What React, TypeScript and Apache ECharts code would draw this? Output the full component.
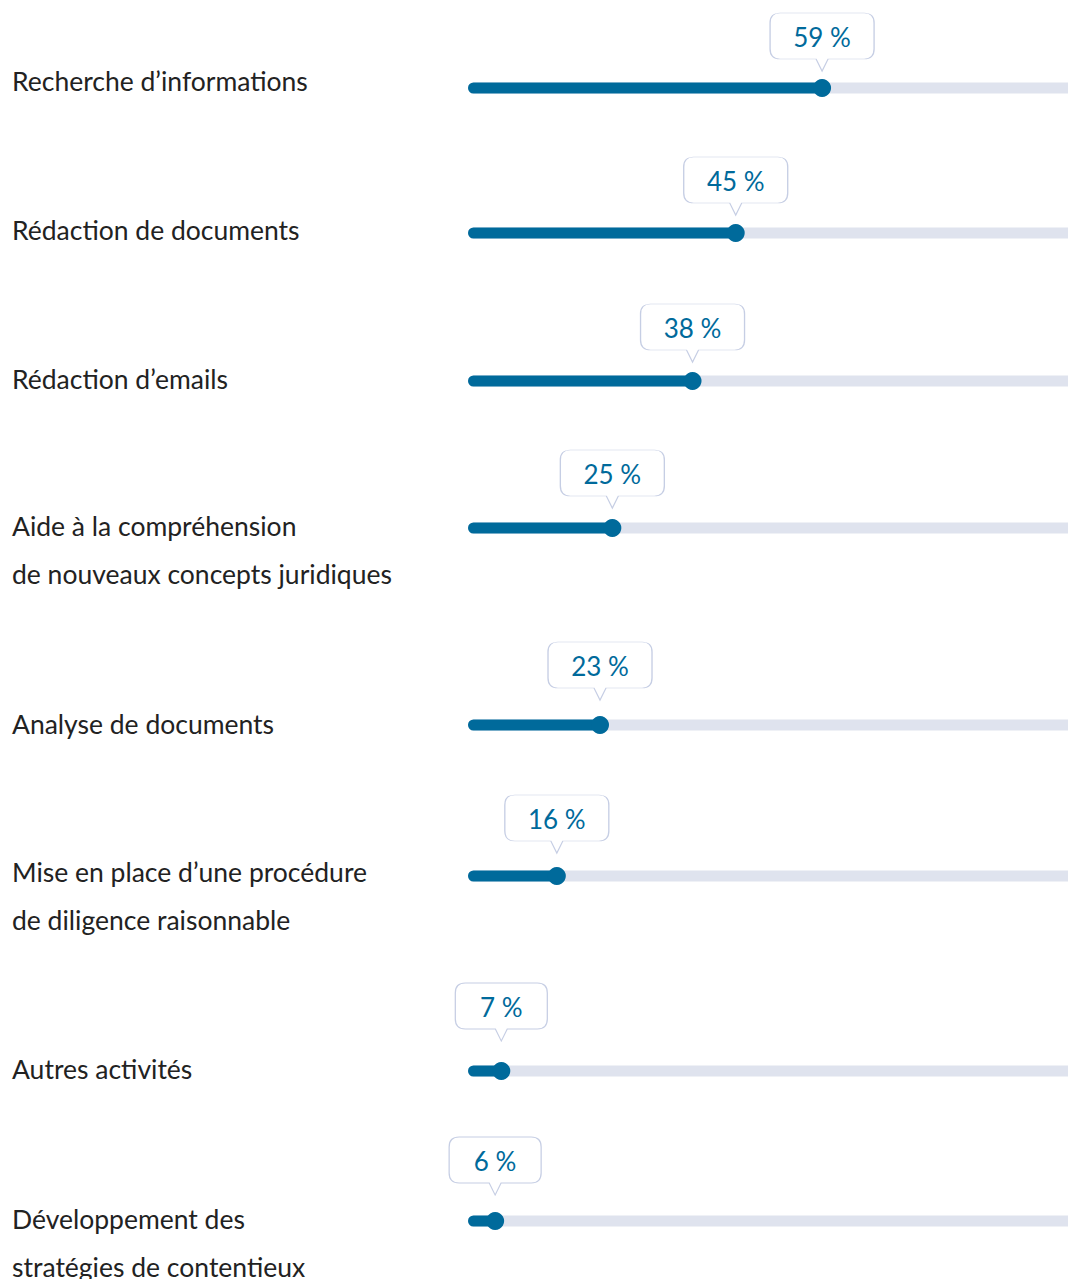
import React, { useEffect, useRef } from "react";
import * as echarts from "echarts";

// ---- data ----
const categories: string[] = [
  "Recherche d’informations",
  "Rédaction de documents",
  "Rédaction d’emails",
  "Aide à la compréhension\nde nouveaux concepts juridiques",
  "Analyse de documents",
  "Mise en place d’une procédure\nde diligence raisonnable",
  "Autres activités",
  "Développement des\nstratégies de contentieux",
];
const values: number[] = [59, 45, 38, 25, 23, 16, 7, 6];

// ---- layout (pixel centres of each slider row, label first line, bubble extra lift) ----
const rowCenters: number[] = [88, 233, 381, 528, 725, 876, 1071, 1221];
const labelCenters: number[] = [81, 229.5, 378.7, 526, 723.5, 872, 1069, 1218.5];
const bubbleLift: number[] = [0, 1, 2, 3, 8, 6, 13, 9];

const BLUE = "#006a9b";
const TRACK = "#dfe3ee";
const BORDER = "#c6cee4";
const FONT = "Lato, 'Open Sans', sans-serif";

function bubblePath(w: number): string {
  const h = 46;
  const r = 10;
  const c = w / 2;
  return (
    `path://M${r},0 L${w - r},0 Q${w},0 ${w},${r} L${w},${h - r} Q${w},${h} ${w - r},${h} ` +
    `L${c + 6},${h} L${c},${h + 12} L${c - 6},${h} L${r},${h} Q0,${h} 0,${h - r} L0,${r} Q0,0 ${r},0 Z`
  );
}

export default function App() {
  const ref = useRef<HTMLDivElement>(null);
  useEffect(() => {
    if (!ref.current) return;
    const chart = echarts.init(ref.current, undefined, { renderer: "svg" });
    const grids: any[] = [];
    const xAxes: any[] = [];
    const yAxes: any[] = [];
    const series: any[] = [];
    const n = categories.length;
    categories.forEach((cat, i) => {
      grids.push({
        left: 468,
        width: 607,
        top: rowCenters[i] - 10,
        height: 20,
        containLabel: false,
        outerBoundsMode: "none",
      });
      xAxes.push({ gridIndex: i, type: "value", min: 1.6, max: 100, show: false });
      yAxes.push({ gridIndex: i, type: "category", data: [cat], show: false });
      series.push({
        type: "bar",
        xAxisIndex: i,
        yAxisIndex: i,
        data: [values[i]],
        barWidth: 11,
        showBackground: true,
        backgroundStyle: { color: TRACK, opacity: 1, borderRadius: [5.5, 0, 0, 5.5] },
        itemStyle: { color: BLUE, opacity: 1, borderRadius: [5.5, 0, 0, 5.5] },
        silent: true,
      });
      series.push({
        type: "scatter",
        xAxisIndex: i,
        yAxisIndex: i,
        data: [[values[i], cat]],
        symbol: "circle",
        symbolSize: 18,
        itemStyle: { color: BLUE, opacity: 1 },
        z: 3,
        silent: true,
      });
      const w = String(values[i]).length > 1 ? 104 : 92;
      series.push({
        type: "scatter",
        xAxisIndex: i,
        yAxisIndex: i,
        data: [[values[i], cat]],
        symbol: bubblePath(w),
        symbolSize: [w, 58],
        symbolOffset: [0, -(46 + bubbleLift[i])],
        itemStyle: { color: "#ffffff", borderColor: BORDER, borderWidth: 1, opacity: 1 },
        label: {
          show: true,
          position: "inside",
          offset: [0, -5],
          formatter: (p: any) => `${p.value[0]} %`,
          color: BLUE,
          fontSize: 26,
          fontFamily: FONT,
        },
        z: 4,
        silent: true,
      });
    });
    categories.forEach((cat, i) => {
      const g = n + i;
      grids.push({
        left: 468,
        width: 600,
        top: labelCenters[i] - 10,
        height: 20,
        containLabel: false,
        outerBoundsMode: "none",
      });
      xAxes.push({ gridIndex: g, type: "value", min: 0, max: 1, show: false });
      yAxes.push({
        gridIndex: g,
        type: "category",
        data: [cat],
        axisLine: { show: false },
        axisTick: { show: false },
        splitLine: { show: false },
        axisLabel: {
          margin: 456,
          align: "left",
          verticalAlign: "middle",
          fontFamily: FONT,
          fontSize: 26.5,
          color: "#222222",
          lineHeight: 48,
          formatter: (v: string) => (v.includes("\n") ? "\n" + v : v),
        },
      });
    });
    chart.setOption({
      animation: false,
      grid: grids,
      xAxis: xAxes,
      yAxis: yAxes,
      series,
    });
    return () => chart.dispose();
  }, []);
  return (
    <div
      ref={ref}
      style={{ position: "absolute", left: 0, top: 0, width: 1068, height: 1279, background: "#fff" }}
    />
  );
}
